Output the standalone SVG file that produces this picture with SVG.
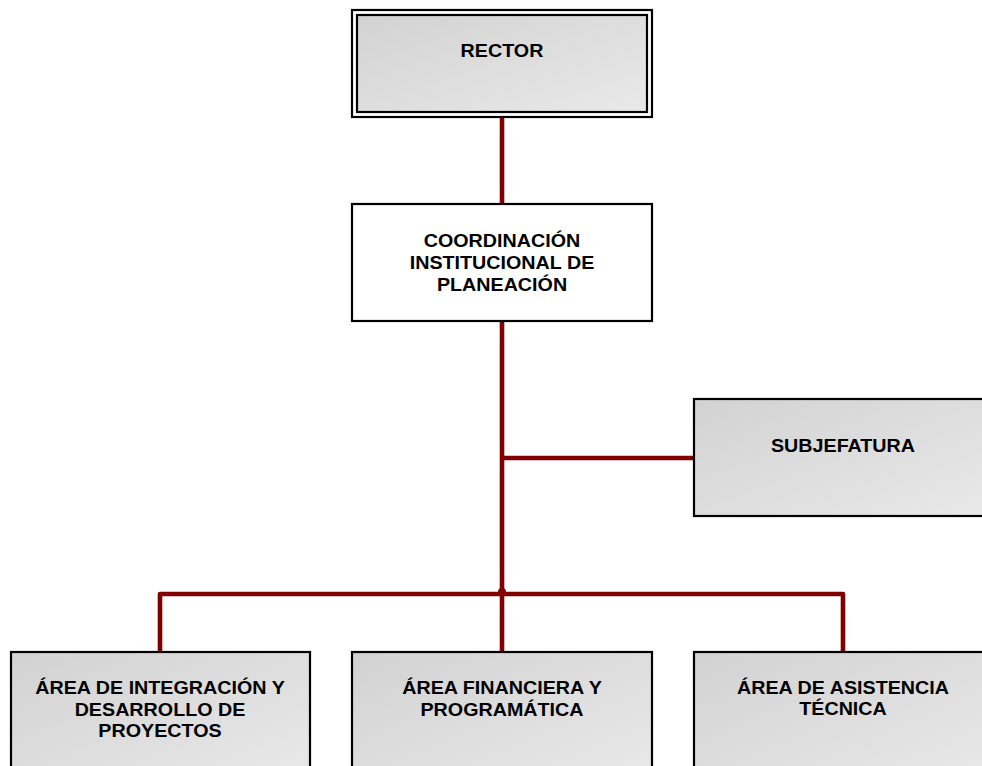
<svg xmlns="http://www.w3.org/2000/svg" width="982" height="766" viewBox="0 0 982 766">
  <defs>
    <linearGradient id="boxFill" x1="0" y1="0" x2="1" y2="1">
      <stop offset="0" stop-color="#d2d2d2"/>
      <stop offset="1" stop-color="#e9e9e9"/>
    </linearGradient>
    <style>
      .box { fill: url(#boxFill); stroke: #000; stroke-width: 2.2; }
      .plain { fill: #fff; stroke: #000; stroke-width: 2.2; }
      .lbl { font-family: "Liberation Sans", Arial, sans-serif; font-weight: bold; font-size: 17.6px; fill: #000; text-anchor: middle; }
      .wire { fill: none; stroke: #800000; stroke-width: 4.6; stroke-linejoin: round; }
    </style>
  </defs>

  <rect width="982" height="766" fill="#fff"/>

  <!-- connectors -->
  <g id="connectors">
    <line class="wire" x1="502" y1="117" x2="502" y2="204"/>
    <line class="wire" x1="502" y1="321" x2="502" y2="652"/>
    <line class="wire" x1="502" y1="458" x2="694" y2="458"/>
    <polyline class="wire" points="160,652 160,594 843,594 843,652"/>
    <circle cx="502" cy="592" r="4" fill="#800000"/>
  </g>

  <!-- top -->
  <g id="rector">
    <rect x="352" y="10" width="300" height="107" fill="#fff" stroke="#000" stroke-width="2.2"/>
    <rect x="357" y="15" width="290" height="97" class="box"/>
    <g transform="translate(502,0) scale(1.12,1)">
      <text class="lbl" x="0" y="57">RECTOR</text>
    </g>
  </g>

  <g id="coordinacion">
    <rect x="352" y="204" width="300" height="117" class="plain"/>
    <g transform="translate(502,0) scale(1.12,1)">
      <text class="lbl" x="0" y="247.5">COORDINACIÓN</text>
      <text class="lbl" x="0" y="269.5">INSTITUCIONAL DE</text>
      <text class="lbl" x="0" y="291">PLANEACIÓN</text>
    </g>
  </g>

  <g id="subjefatura">
    <rect x="694" y="399" width="300" height="117" class="box"/>
    <g transform="translate(843,0) scale(1.12,1)">
      <text class="lbl" x="0" y="452">SUBJEFATURA</text>
    </g>
  </g>

  <!-- bottom row -->
  <g id="area-integracion">
    <rect x="11" y="652" width="299" height="130" class="box"/>
    <g transform="translate(160,0) scale(1.12,1)">
      <text class="lbl" x="0" y="694.5">ÁREA DE INTEGRACIÓN Y</text>
      <text class="lbl" x="0" y="716">DESARROLLO DE</text>
      <text class="lbl" x="0" y="737.5">PROYECTOS</text>
    </g>
  </g>

  <g id="area-financiera">
    <rect x="352" y="652" width="300" height="130" class="box"/>
    <g transform="translate(502,0) scale(1.12,1)">
      <text class="lbl" x="0" y="694.5">ÁREA FINANCIERA Y</text>
      <text class="lbl" x="0" y="716">PROGRAMÁTICA</text>
    </g>
  </g>

  <g id="area-asistencia">
    <rect x="694" y="652" width="300" height="130" class="box"/>
    <g transform="translate(843,0) scale(1.12,1)">
      <text class="lbl" x="0" y="694">ÁREA DE ASISTENCIA</text>
      <text class="lbl" x="0" y="715">TÉCNICA</text>
    </g>
  </g>
</svg>
